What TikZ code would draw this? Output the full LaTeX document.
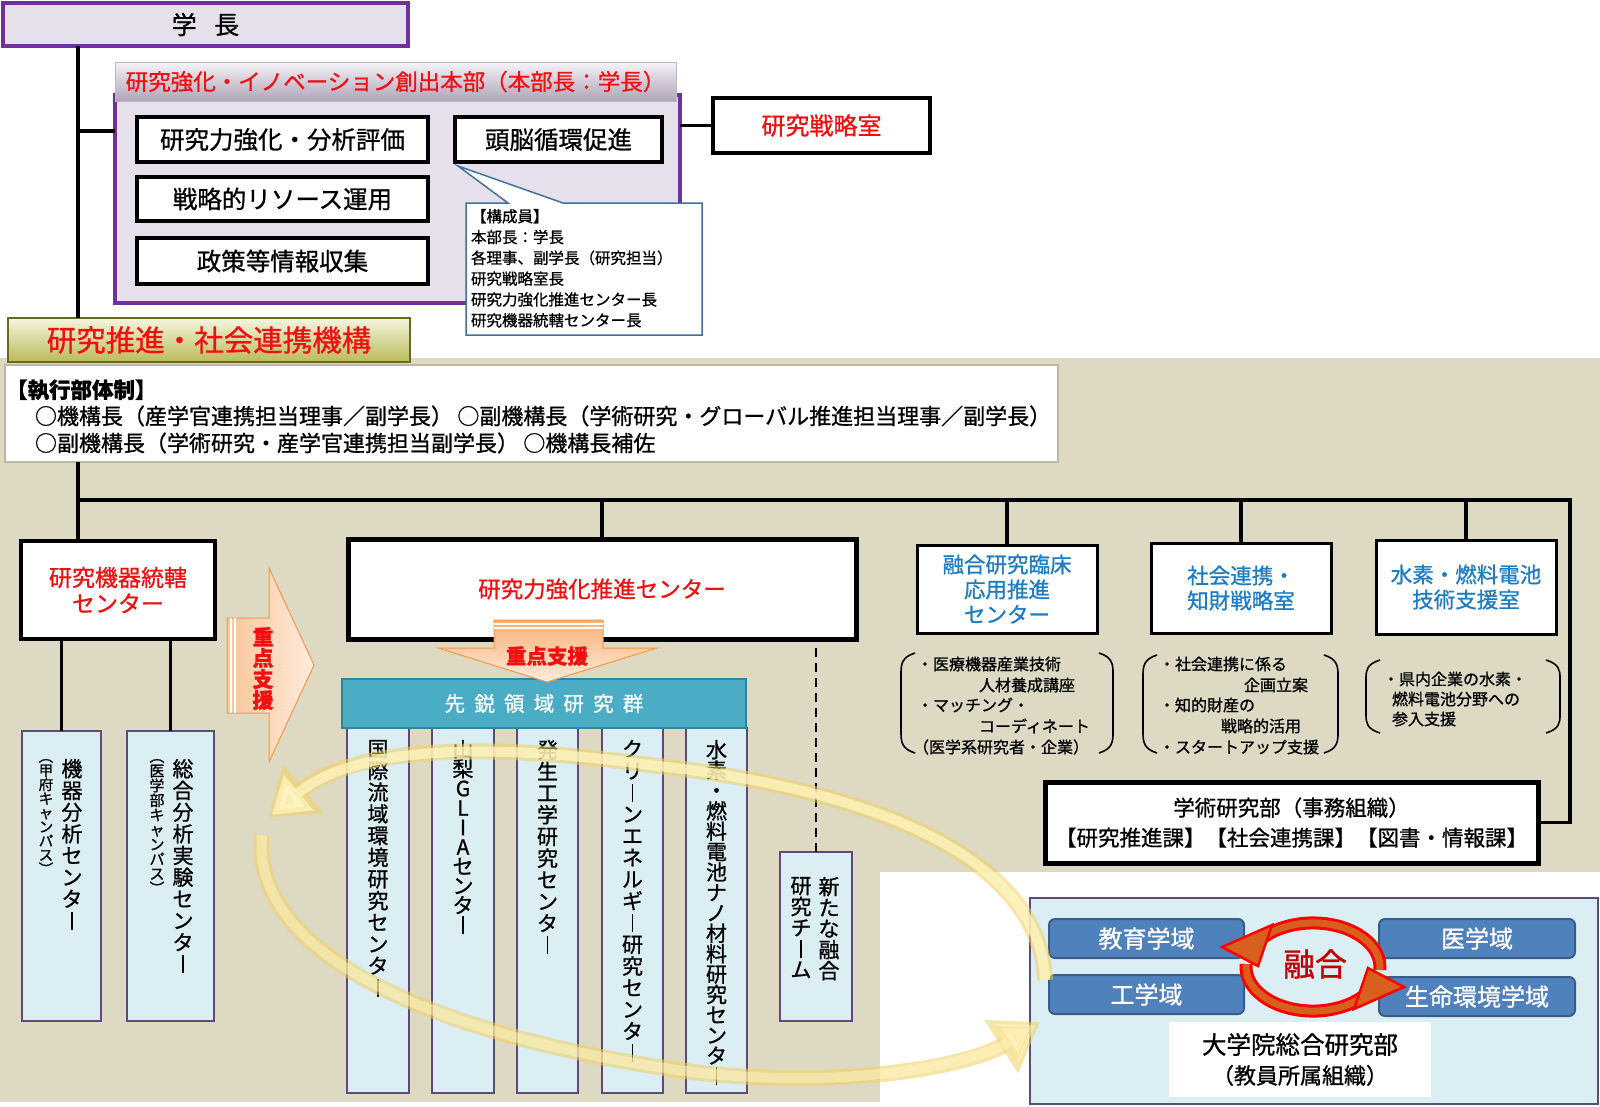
\documentclass[tikz,border=0pt]{standalone}
\usepackage{fontspec}
\setmainfont{Noto Sans CJK JP}[FakeBold=0.9]
\usetikzlibrary{arrows.meta}
\definecolor{purp}{HTML}{7030A0}
\definecolor{lav}{HTML}{E6E0EC}
\definecolor{colp}{HTML}{5F497A}
\definecolor{colb}{HTML}{DBEEF4}
\definecolor{beig}{HTML}{DDD9C3}
\definecolor{redtx}{HTML}{F01010}
\definecolor{bluetx}{HTML}{1C7CC4}
\definecolor{tealbar}{HTML}{4BACC6}
\definecolor{tealdk}{HTML}{31849B}
\definecolor{rbox}{HTML}{4F81BD}
\definecolor{rboxd}{HTML}{385D8A}
\definecolor{orgb}{HTML}{F79646}
\definecolor{callb}{HTML}{41719C}
\definecolor{yelb}{HTML}{F2D060}
\definecolor{yelf}{HTML}{FFF6C2}
\definecolor{rinner}{HTML}{D8601E}
\definecolor{yugotx}{HTML}{C00000}
\newcommand\fsz[2]{\fontsize{#1}{#2}\selectfont}
\newcommand\vbarx{\rule[-0.06em]{0.08em}{0.86em}}
\ExplSyntaxOn
\NewDocumentCommand \vt { O{21.7pt} m }
 {
  \vbox:n
   {
    \baselineskip=#1\relax
    \lineskiplimit=-100pt\relax
    \lineskip=0pt\relax
    \tl_map_inline:nn {#2} { \hbox_to_wd:nn {1.1em} { \hss ##1 \hss } }
   }
 }
\ExplSyntaxOff
\tikzset{
  every node/.style={inner sep=0pt, outer sep=0pt},
  conn/.style={draw=black, line width=3.2},
  blk/.style={draw=black, fill=white, line width=4},
  colbox/.style={draw=colp, fill=colb, line width=2.5},
  vtxt/.style={anchor=north, font=\fsz{21}{22}},
  bluebox/.style={draw=black, fill=white, line width=3, align=center, text=bluetx, font=\fsz{21.5}{25}},
  brk/.style={draw=black, line width=1.6},
  brtx/.style={anchor=west, font=\fsz{16}{18}},
  rnd/.style={draw=rboxd, fill=rbox, line width=2, rounded corners=6, text=white, font=\fsz{24}{28}},
  orar/.style={draw=orgb, line width=1},
  yo/.style={draw=yelb, line width=16, opacity=0.55, -{Triangle[width=60pt,length=46pt]}},
  yi/.style={draw=yelf, line width=10, opacity=0.75, shorten >=5pt, -{Triangle[width=44pt,length=35pt]}},
  rout/.style={draw=red, line width=13},
  rin/.style={draw=rinner, line width=7},
  rhead/.style={draw=red, fill=rinner, line width=2.5, line join=miter}
}
\begin{document}
\begin{tikzpicture}[x=1pt,y=-1pt]
\useasboundingbox (0,0) rectangle (1600,1106);
\fill[white] (0,0) rectangle (1600,1106);
% backgrounds
\fill[beig] (0,358) rectangle (1600,1102);
\fill[white] (880,872) rectangle (1600,1106);

% ---------- top part ----------
\node[draw=purp, line width=4, fill=lav, minimum width=405, minimum height=43, font=\fsz{25}{28}] (gakucho) at (205.5,24.5) {学\hspace{0.7em}長};
\node[draw=purp, line width=3.5, fill=lav, minimum width=565, minimum height=208] (honbu) at (397.5,199) {};
\node[draw=lav!60!gray, line width=1, top color=lav!40, bottom color=lav!80!purp!60!gray, minimum width=561, minimum height=39, text=redtx, font=\fsz{22.5}{26}] (hdr) at (395.5,81.5) {研究強化・イノベーション創出本部（本部長：学長）};
\node[blk, minimum width=291, minimum height=45, font=\fsz{24.5}{28}] (b1) at (282.5,139.5) {研究力強化・分析評価};
\node[blk, minimum width=207, minimum height=45, font=\fsz{24.5}{28}] (b2) at (558.5,139.5) {頭脳循環促進};
\node[blk, minimum width=291, minimum height=44, font=\fsz{24.5}{28}] (b3) at (282.5,199) {戦略的リソース運用};
\node[blk, minimum width=291, minimum height=46, font=\fsz{24.5}{28}] (b4) at (282.5,261) {政策等情報収集};
\draw[draw=callb, line width=1.5, fill=white] (466,203) -- (508,203) -- (458,166) -- (563,203) -- (702,203) -- (702,335) -- (466,335) -- cycle;
\node[anchor=north west, align=left, font=\fsz{15.5}{20.8}] (cmember) at (471,209) {【構成員】\\本部長：学長\\各理事、副学長（研究担当）\\研究戦略室長\\研究力強化推進センター長\\研究機器統轄センター長};
\node[blk, minimum width=217, minimum height=55, text=redtx, font=\fsz{24}{26}] (senryaku) at (821.5,125.5) {研究戦略室};
\draw[conn] (honbu.east |- senryaku.west) -- (senryaku.west);

\coordinate (sp) at (78,0);
\coordinate (br) at (78,131);
\node[draw=olive!70!black, line width=1.5, top color=olive!8!white, bottom color=olive!45!white!85!gray, minimum width=402, minimum height=44, text=redtx, font=\fsz{29.5}{32}] (tab) at (209,340) {研究推進・社会連携機構};
\draw[conn] (gakucho.south -| sp) -- (tab.north -| sp);
\draw[conn] (br) -- (br -| honbu.west);

% ---------- executive ----------
\node[draw=beig!85!black, line width=2, fill=white, minimum width=1053, minimum height=97] (exec) at (531.5,413.5) {};
\node[anchor=west, font=\fsz{21.5}{24}\bfseries] (e1) at (6,390) {【執行部体制】};
\node[anchor=west, font=\fsz{22}{24}] (e2) at (35,416) {○機構長（産学官連携担当理事／副学長）\hspace{0.2em}○副機構長（学術研究・グローバル推進担当理事／副学長）};
\node[anchor=west, font=\fsz{22}{24}] (e3) at (35,443) {○副機構長（学術研究・産学官連携担当副学長）\hspace{0.2em}○機構長補佐};

% ---------- left centre ----------
\node[blk, minimum width=194, minimum height=98, align=center, text=redtx, font=\fsz{23}{26}] (kiki) at (118,590) {研究機器統轄\\センター};
\draw[conn] (exec.south -| sp) -- (kiki.north -| sp);
\node[colbox, minimum width=79, minimum height=290] (c1) at (61.5,876) {};
\node[colbox, minimum width=87, minimum height=290] (c2) at (170.5,876) {};
\draw[conn] (c1.north) -- (c1.north |- kiki.south);
\draw[conn] (c2.north) -- (c2.north |- kiki.south);
\node[vtxt] (c1t) at (72,759) {\vt{機器分析センタ{\vbarx}}};
\node[vtxt, font=\fsz{14.5}{15}] (c1s) at (46,759) {\vt[14.1pt]{︵甲府キャンパス︶}};
\node[vtxt] (c2t) at (183,759) {\vt{総合分析実験センタ{\vbarx}}};
\node[vtxt, font=\fsz{15}{15}] (c2s) at (157,759) {\vt[14.7pt]{︵医学部キャンパス︶}};

% right-pointing support arrow
\shade[orar, left color=orgb!55!white, right color=orgb!18!white] (227,618) -- (269,618) -- (269,568) -- (314,665) -- (269,762) -- (269,713) -- (227,713) -- cycle;
\draw[white, line width=1.2] (231,618) -- (231,713) (235,618) -- (235,713);
\node[vtxt, text=redtx, font=\fsz{21}{22}\bfseries] (jr) at (263,627) {\vt[21pt]{重点支援}};

% ---------- research strengthening ----------
\node[blk, line width=5, minimum width=508, minimum height=100, text=redtx, font=\fsz{22.5}{25}] (kyoka) at (602,589) {研究力強化推進センター};
\node[colbox, minimum width=62, minimum height=365] (k1) at (378,910.5) {};
\node[colbox, minimum width=62, minimum height=365] (k2) at (463,910.5) {};
\node[colbox, minimum width=61, minimum height=365] (k3) at (547.5,910.5) {};
\node[colbox, minimum width=61, minimum height=365] (k4) at (632.5,910.5) {};
\node[colbox, minimum width=61, minimum height=365] (k5) at (716.5,910.5) {};
\node[draw=tealdk, line width=2, fill=tealbar, minimum width=404, minimum height=49, text=white, font=\fsz{20.5}{24}] (sen) at (544,703.5) {先\hspace{0.45em}鋭\hspace{0.45em}領\hspace{0.45em}域\hspace{0.45em}研\hspace{0.45em}究\hspace{0.45em}群};
\shade[orar, top color=orgb!75!white, bottom color=orgb!18!white] (494,620) -- (603,620) -- (603,648) -- (657,648) -- (547,682) -- (438,648) -- (494,648) -- cycle;
\draw[white, line width=1.2] (494,624) -- (603,624) (494,628) -- (603,628);
\node[text=redtx, font=\fsz{20.5}{22}\bfseries] (jd) at (547,656) {重点支援};
\node[vtxt] (k1t) at (378,740) {\vt{国際流域環境研究センタ{\vbarx}}};
\node[vtxt] (k2t) at (463,740) {\vt[19.5pt]{山梨GLIAセンタ{\vbarx}}};
\node[vtxt] (k3t) at (547.5,740) {\vt{発生工学研究センタ{\vbarx}}};
\node[vtxt] (k4t) at (632.5,740) {\vt{クリ{\vbarx}ンエネルギ{\vbarx}研究センタ{\vbarx}}};
\node[vtxt] (k5t) at (716.5,740) {\vt[20.4pt]{水素・燃料電池ナノ材料研究センタ{\vbarx}}};
\node[colbox, minimum width=72, minimum height=169] (newt) at (816,936.5) {};
\node[vtxt] (newa) at (829,877) {\vt[21pt]{新たな融合}};
\node[vtxt] (newb) at (801,877) {\vt[21pt]{研究チ{\vbarx}ム}};
\draw[black, line width=2.6, dash pattern=on 9pt off 6pt] (newt.north) -- (newt.north |- kyoka.south);

% ---------- right side ----------
\node[bluebox, minimum width=180, minimum height=88] (fusion) at (1007,589) {融合研究臨床\\応用推進\\センター};
\node[bluebox, minimum width=180, minimum height=90] (shakai) at (1241,588) {社会連携・\\知財戦略室};
\node[bluebox, minimum width=180, minimum height=94] (suiso) at (1466,587) {水素・燃料電池\\技術支援室};
\node[blk, line width=5, minimum width=493, minimum height=81, align=center, font=\fsz{21.5}{30}] (gakujutsu) at (1291.5,822.5) {学術研究部（事務組織）\\【研究推進課】【社会連携課】【図書・情報課】};

\coordinate (bus) at (0,500);
\coordinate (rs) at (1570,0);
\draw[conn] (bus -| sp) -- (bus -| rs) -- (rs |- gakujutsu.east) -- (gakujutsu.east);
\draw[conn] (kyoka.north) -- (kyoka.north |- bus);
\draw[conn] (fusion.north) -- (fusion.north |- bus);
\draw[conn] (shakai.north) -- (shakai.north |- bus);
\draw[conn] (suiso.north) -- (suiso.north |- bus);

% brackets
\draw[brk] (915,653) .. controls (902,657) and (901,664) .. (901,673) -- (901,733) .. controls (901,742) and (902,749) .. (915,753);
\draw[brk] (1099,653) .. controls (1112,657) and (1113,664) .. (1113,673) -- (1113,733) .. controls (1113,742) and (1112,749) .. (1099,753);
\draw[brk] (1157,655) .. controls (1144,659) and (1143,666) .. (1143,675) -- (1143,733) .. controls (1143,742) and (1144,749) .. (1157,753);
\draw[brk] (1324,655) .. controls (1337,659) and (1338,666) .. (1338,675) -- (1338,733) .. controls (1338,742) and (1337,749) .. (1324,753);
\draw[brk] (1380,660) .. controls (1367,664) and (1366,670) .. (1366,678) -- (1366,715) .. controls (1366,723) and (1367,729) .. (1380,733);
\draw[brk] (1546,660) .. controls (1559,664) and (1560,670) .. (1560,678) -- (1560,715) .. controls (1560,723) and (1559,729) .. (1546,733);
\node[brtx] (p11) at (917,664) {・医療機器産業技術};
\node[brtx] (p12) at (979,685) {人材養成講座};
\node[brtx] (p13) at (917,705) {・マッチング・};
\node[brtx] (p14) at (979,726) {コーディネート};
\node[brtx] (p15) at (913,747) {（医学系研究者・企業）};
\node[brtx] (p21) at (1159,664) {・社会連携に係る};
\node[brtx] (p22) at (1244,685) {企画立案};
\node[brtx] (p23) at (1159,705) {・知的財産の};
\node[brtx] (p24) at (1221,726) {戦略的活用};
\node[brtx] (p25) at (1159,747) {・スタートアップ支援};
\node[brtx] (p31) at (1383,679) {・県内企業の水素・};
\node[brtx] (p32) at (1392,699) {燃料電池分野への};
\node[brtx] (p33) at (1392,719) {参入支援};

% ---------- graduate school ----------
\node[draw=colp, line width=2.5, fill=colb, minimum width=568, minimum height=206] (grad) at (1314,1001) {};
\node[rnd, minimum width=195, minimum height=39] (kyoiku) at (1146.5,938.5) {教育学域};
\node[rnd, minimum width=195, minimum height=39] (kogaku) at (1146.5,994.5) {工学域};
\node[rnd, minimum width=196, minimum height=39] (igaku) at (1477,938.5) {医学域};
\node[rnd, minimum width=196, minimum height=39] (seimei) at (1477,996.5) {生命環境学域};
\node[fill=white, minimum width=262, minimum height=75, align=center, font=\fsz{24.5}{30}] (gradlbl) at (1300,1059.5) {大学院総合研究部\\{\fsz{22}{26}（教員所属組織）}};
% fusion cycle arrows (centre 1313,967)
\draw[rout] (1379.8,970) arc[start angle=-4, end angle=140, x radius=67pt, y radius=44pt];
\draw[rin] (1379.8,970) arc[start angle=-4, end angle=140, x radius=67pt, y radius=44pt];
\draw[rout] (1246.2,964) arc[start angle=176, end angle=320, x radius=67pt, y radius=44pt];
\draw[rin] (1246.2,964) arc[start angle=176, end angle=320, x radius=67pt, y radius=44pt];
\draw[rhead] (1272,925) -- (1222,947) -- (1258,966) -- cycle;
\draw[rhead] (1354,1009) -- (1404,987) -- (1368,968) -- cycle;
\node[text=yugotx, font=\fsz{32}{36}] (yugo) at (1315,964) {融合};

% ---------- yellow cycle arrows ----------
\coordinate (ya1) at (1045,980);
\coordinate (ya2) at (268,818);
\coordinate (yb1) at (262,835);
\coordinate (yb2) at (1040,1022);
\draw[yo] (ya1) .. controls (1040,860) and (880,790) .. (650,765) .. controls (470,740) and (350,750) .. (ya2);
\draw[yi] (ya1) .. controls (1040,860) and (880,790) .. (650,765) .. controls (470,740) and (350,750) .. (ya2);
\draw[yo] (yb1) .. controls (250,960) and (450,1040) .. (700,1073) .. controls (870,1090) and (980,1060) .. (yb2);
\draw[yi, opacity=0.5] (yb1) .. controls (250,960) and (450,1040) .. (700,1073) .. controls (870,1090) and (980,1060) .. (yb2);
\end{tikzpicture}
\end{document}
